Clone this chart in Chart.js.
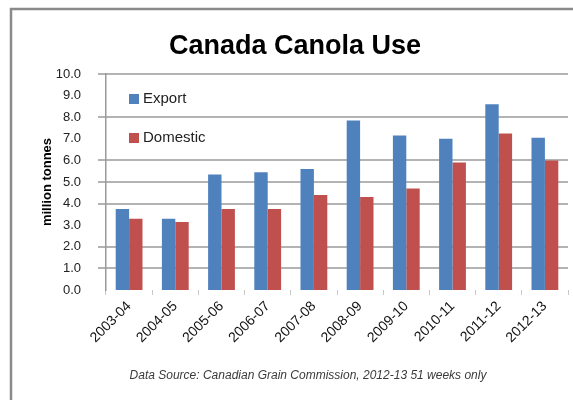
<!DOCTYPE html>
<html>
<head>
<meta charset="utf-8">
<script src="https://cdn.jsdelivr.net/npm/chart.js@4"></script>
<style>
  html, body { margin: 0; padding: 0; background: #fff; }
</style>
</head>
<body>
<canvas id="canolaChart" width="573" height="400"></canvas>
<script>
// Canada canola use, million tonnes
const years = ["2003-04", "2004-05", "2005-06", "2006-07", "2007-08", "2008-09", "2009-10", "2010-11", "2011-12", "2012-13"];
const exportUse = [3.75, 3.3, 5.35, 5.45, 5.6, 7.85, 7.15, 7.0, 8.6, 7.05];
const domesticUse = [3.3, 3.15, 3.75, 3.75, 4.4, 4.3, 4.7, 5.9, 7.25, 6.0];
const yMin = 0;
const yMax = 10;
const yStep = 1;
// in the original picture the 0, 3, 7 and 9 gridlines are washed out
const gridValues = [1, 2, 4, 5, 6, 8, 10];
const sourceNote = "Data Source: Canadian Grain Commission, 2012-13 51 weeks only";

// frame, gridlines, legend inside the plot, source note
const decor = {
  id: "decor",
  beforeDraw(chart) {
    const c = chart.ctx;
    c.save();
    c.strokeStyle = "#8a8a8a";
    c.lineWidth = 2.5;
    c.beginPath();
    c.moveTo(11, 400);
    c.lineTo(11, 9);
    c.lineTo(573, 9);
    c.stroke();
    c.restore();
  },
  beforeDatasetsDraw(chart) {
    const c = chart.ctx;
    const area = chart.chartArea;
    const y = chart.scales.y;
    c.save();
    c.strokeStyle = "#9a9a9a";
    c.lineWidth = 1.5;
    gridValues.forEach((v) => {
      const py = Math.round(y.getPixelForValue(v));
      c.beginPath();
      c.moveTo(area.left - 8, py);
      c.lineTo(area.right, py);
      c.stroke();
    });
    c.restore();
  },
  afterDraw(chart) {
    const c = chart.ctx;
    const area = chart.chartArea;
    c.save();
    c.font = "15px 'Liberation Sans'";
    c.textBaseline = "middle";
    chart.data.datasets.forEach((ds, i) => {
      const y = area.top + 25 + i * 39;
      c.fillStyle = ds.backgroundColor;
      c.fillRect(area.left + 23, y - 5, 10, 10);
      c.fillStyle = "#222";
      c.fillText(ds.label, area.left + 37, y);
    });
    c.font = "italic 12px 'Liberation Sans'";
    c.fillStyle = "#3a3a3a";
    c.textAlign = "center";
    c.fillText(sourceNote, 308, 376);
    c.restore();
  }
};

new Chart(document.getElementById("canolaChart"), {
  type: "bar",
  data: {
    labels: years,
    datasets: [
      { label: "Export", data: exportUse, backgroundColor: "#4f81bd" },
      { label: "Domestic", data: domesticUse, backgroundColor: "#c0504d" }
    ]
  },
  options: {
    responsive: false,
    animation: false,
    devicePixelRatio: 1,
    categoryPercentage: 0.58,
    barPercentage: 1,
    layout: { padding: { top: 20, left: 22, right: 5, bottom: 0 } },
    plugins: {
      title: {
        display: true,
        text: "Canada Canola Use",
        color: "#000",
        font: { family: "'Liberation Sans'", size: 27, weight: "bold" },
        padding: { top: 10.4, bottom: 11.2 }
      },
      legend: { display: false },
      tooltip: { enabled: false }
    },
    scales: {
      x: {
        afterFit(scale) { scale.height = 110; },
        grid: {
          offset: true,
          drawOnChartArea: false,
          drawTicks: true,
          tickLength: 5,
          color: "#c8c8c8"
        },
        border: { display: false },
        ticks: {
          minRotation: 45,
          maxRotation: 45,
          color: "#111",
          font: { family: "'Liberation Sans'", size: 14 }
        }
      },
      y: {
        min: yMin,
        max: yMax,
        afterFit(scale) { scale.width = 84; },
        title: {
          display: true,
          text: "million tonnes",
          color: "#000",
          padding: { top: 18, bottom: 4 },
          font: { family: "'Liberation Sans'", size: 13, weight: "bold" }
        },
        border: { display: true, color: "#9a9a9a", width: 1.5 },
        grid: { display: false },
        ticks: {
          stepSize: yStep,
          padding: 17,
          color: "#222",
          font: { family: "'Liberation Sans'", size: 13 },
          callback: (v) => v.toFixed(1)
        }
      }
    }
  },
  plugins: [decor]
});
</script>
</body>
</html>
